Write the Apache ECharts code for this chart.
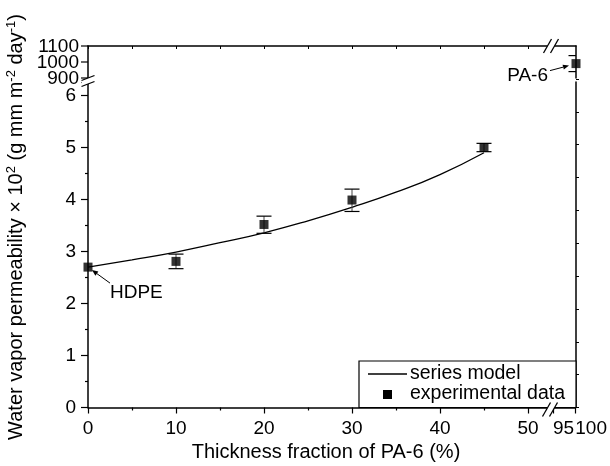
<!DOCTYPE html>
<html><head><meta charset="utf-8">
<script src="https://cdn.jsdelivr.net/npm/echarts@6/dist/echarts.min.js"></script>
<style>html,body{margin:0;padding:0;background:#fff}#c{width:610px;height:466px}</style>
</head><body><div id="c"></div>
<script>
// ---- data ----
const modelX = [0, 5, 10, 15, 20, 25, 30, 35, 40, 45];
const modelY = [2.70, 2.84, 2.99, 3.17, 3.36, 3.59, 3.85, 4.14, 4.48, 4.90];
const expX = [0, 10, 20, 30, 45];
const expY = [2.70, 2.81, 3.52, 3.99, 5.00];
const expLow = [null, 2.67, 3.35, 3.77, 4.92];
const expHigh = [null, 2.95, 3.68, 4.20, 5.08];
const pa6X = [100];
const pa6Y = [990];
const pa6Low = [940];
const pa6High = [1040];
const yTicksTop = [900, 1000, 1100];
const xTicksRight = [95, 100];
const seriesNames = ['series model', 'experimental data'];

// ---- chart ----
const FONT = '"Liberation Sans", Arial, Helvetica, sans-serif';
const K = '#000';
const chart = echarts.init(document.getElementById('c'));
const AL = {show: true, onZero: false, lineStyle: {color: K, width: 1.5}};
const plain = v => String(Math.round(v * 100) / 100);
const lbl = (show, extra) => Object.assign({show, color: K, fontSize: 19, fontFamily: FONT,
  hideOverlap: false, formatter: plain}, extra || {});

function errRender(params, api) {
  const x = api.value(0), lo = api.value(1), hi = api.value(2);
  const a = api.coord([x, lo]), b = api.coord([x, hi]);
  const cs = params.coordSys;
  const w = 7.5;
  const xl = Math.max(a[0] - w, cs.x), xr = Math.min(a[0] + w, cs.x + cs.width);
  return {type: 'group', children: [
    {type: 'line', shape: {x1: a[0], y1: a[1], x2: b[0], y2: b[1]}, style: {stroke: '#444', lineWidth: 1}},
    {type: 'line', shape: {x1: xl, y1: a[1], x2: xr, y2: a[1]}, style: {stroke: K, lineWidth: 1.2}},
    {type: 'line', shape: {x1: xl, y1: b[1], x2: xr, y2: b[1]}, style: {stroke: K, lineWidth: 1.2}}
  ]};
}

const errMain = [];
expX.forEach((x, i) => { if (expLow[i] != null) errMain.push([x, expLow[i], expHigh[i]]); });
const errPA = pa6X.map((x, i) => [x, pa6Low[i], pa6High[i]]);

chart.setOption({
  animation: false,
  backgroundColor: '#fff',
  grid: [
    {left: 88, top: 82, width: 462, height: 325.5},   // main
    {left: 88, top: 46, width: 462, height: 32},      // top-left
    {left: 550, top: 82, width: 26, height: 325.5},   // bottom-right
    {left: 550, top: 46, width: 26, height: 32},      // top-right
    {left: 550, top: 79, width: 26, height: 328.5}    // right-side ticks
  ],
  xAxis: [
    {gridIndex: 0, type: 'value', min: 0, max: 52.5, interval: 10, axisLine: AL,
     axisTick: {show: true, inside: false, length: 6, lineStyle: {color: K, width: 1.2}},
     minorTick: {show: true, splitNumber: 2, length: 3, lineStyle: {color: K, width: 1.2}},
     axisLabel: lbl(true, {margin: 12}), splitLine: {show: false}},
    {gridIndex: 1, type: 'value', position: 'top', min: 0, max: 52.5, interval: 5, axisLine: AL,
     axisTick: {show: true, inside: true, length: 3, lineStyle: {color: K, width: 1}},
     axisLabel: {show: false}, splitLine: {show: false}},
    {gridIndex: 2, type: 'value', min: 94.348, max: 100, axisLine: AL,
     axisTick: {show: true, length: 6, customValues: xTicksRight, lineStyle: {color: K, width: 1.2}},
     axisLabel: lbl(true, {margin: 12, customValues: xTicksRight, align: 'left'}), splitLine: {show: false}},
    {gridIndex: 3, type: 'value', position: 'top', min: 94.348, max: 100, axisLine: AL,
     axisTick: {show: false}, axisLabel: {show: false}, splitLine: {show: false}},
    {gridIndex: 4, type: 'value', min: 0, max: 1, show: false}
  ],
  yAxis: [
    {gridIndex: 0, type: 'value', min: 0, max: 6.26, interval: 1, axisLine: AL,
     axisTick: {show: true, length: 7, lineStyle: {color: K, width: 1.2}},
     minorTick: {show: true, splitNumber: 2, length: 3, lineStyle: {color: K, width: 1.2}},
     axisLabel: lbl(true, {margin: 12, showMaxLabel: false}), splitLine: {show: false}},
    {gridIndex: 1, type: 'value', min: yTicksTop[0], max: yTicksTop[2], interval: 100, axisLine: AL,
     axisTick: {show: false}, axisLabel: {show: false}, splitLine: {show: false}},
    {gridIndex: 2, type: 'value', position: 'right', min: 0, max: 6.26, axisLine: AL,
     axisTick: {show: false}, axisLabel: {show: false}, splitLine: {show: false}},
    {gridIndex: 3, type: 'value', position: 'right', min: yTicksTop[0], max: yTicksTop[2], axisLine: AL,
     axisTick: {show: false}, axisLabel: {show: false}, splitLine: {show: false}},
    {gridIndex: 4, type: 'value', position: 'right', min: 0, max: 10, interval: 1,
     axisLine: {show: false, onZero: false},
     axisTick: {show: true, length: 3, lineStyle: {color: K, width: 1}}, axisLabel: {show: false}, splitLine: {show: false}}
  ],
  series: [
    {name: seriesNames[0], type: 'line', xAxisIndex: 0, yAxisIndex: 0, smooth: true, showSymbol: false,
     data: modelX.map((x, i) => [x, modelY[i]]), lineStyle: {color: K, width: 1.3}, z: 3},
    {type: 'custom', xAxisIndex: 0, yAxisIndex: 0, renderItem: errRender, data: errMain, z: 4},
    {name: seriesNames[1], type: 'scatter', xAxisIndex: 0, yAxisIndex: 0, symbol: 'rect', symbolSize: 9,
     itemStyle: {color: K}, data: expX.map((x, i) => [x, expY[i]]), clip: false, z: 5},
    {type: 'custom', xAxisIndex: 3, yAxisIndex: 3, renderItem: errRender, data: errPA, z: 4},
    {name: 'PA-6', type: 'scatter', xAxisIndex: 3, yAxisIndex: 3, symbol: 'rect', symbolSize: 9,
     itemStyle: {color: K}, data: pa6X.map((x, i) => [x, pa6Y[i]]), clip: false, z: 5}
  ]
});

// ---- decorations (breaks, annotations, legend, titles, top-segment ticks) ----
function brkH(cx, cy) { // break on a horizontal axis: steep strokes
  const dx = 4, dy = 7, o = 3.5;
  const p = [[cx - o - dx, cy + dy], [cx - o + dx, cy - dy], [cx + o + dx, cy - dy], [cx + o - dx, cy + dy]];
  return [
    {type: 'polygon', shape: {points: p}, style: {fill: '#fff'}, z: 50},
    {type: 'line', shape: {x1: p[0][0], y1: p[0][1], x2: p[1][0], y2: p[1][1]}, style: {stroke: K, lineWidth: 1.3}, z: 51},
    {type: 'line', shape: {x1: p[3][0], y1: p[3][1], x2: p[2][0], y2: p[2][1]}, style: {stroke: K, lineWidth: 1.3}, z: 51}
  ];
}
function brkV(cx, cy) { // break on a vertical axis: shallow strokes
  const dx = 6.5, dy = 2.5, o = 3;
  const p = [[cx - dx, cy - o + dy], [cx + dx, cy - o - dy], [cx + dx, cy + o - dy], [cx - dx, cy + o + dy]];
  return [
    {type: 'polygon', shape: {points: p}, style: {fill: '#fff'}, z: 50},
    {type: 'line', shape: {x1: p[0][0], y1: p[0][1], x2: p[1][0], y2: p[1][1]}, style: {stroke: K, lineWidth: 1.3}, z: 51},
    {type: 'line', shape: {x1: p[3][0], y1: p[3][1], x2: p[2][0], y2: p[2][1]}, style: {stroke: K, lineWidth: 1.3}, z: 51}
  ];
}
function arrow(x1, y1, x2, y2) {
  const ang = Math.atan2(y2 - y1, x2 - x1), L = 6, W = 2.5;
  const bx = x2 - L * Math.cos(ang), by = y2 - L * Math.sin(ang);
  const nx = -Math.sin(ang) * W, ny = Math.cos(ang) * W;
  return [
    {type: 'line', shape: {x1, y1, x2: bx, y2: by}, style: {stroke: K, lineWidth: 1}, z: 20},
    {type: 'polygon', shape: {points: [[x2, y2], [bx + nx, by + ny], [bx - nx, by - ny]]}, style: {fill: K}, z: 20}
  ];
}
const hd = chart.convertToPixel({gridIndex: 0}, [expX[0], expY[0]]);
const pa = chart.convertToPixel({gridIndex: 3}, [pa6X[0], pa6Y[0]]);
const corner = chart.convertToPixel({gridIndex: 0}, [52.5, 0]);
const topLeft = chart.convertToPixel({gridIndex: 1}, [0, 1100]);
const txt = (text, x, y, size, align, vAlign) => ({type: 'text', x, y, z: 30,
  style: {text, fill: K, fontSize: size, fontFamily: FONT, align: align || 'left', verticalAlign: vAlign || 'middle'}});

const g = [];
// top segment ticks + labels of the left axis (placed through the axis scale)
yTicksTop.forEach(v => {
  const p = chart.convertToPixel({gridIndex: 1}, [0, v]);
  g.push({type: 'line', shape: {x1: p[0] - 7, y1: p[1], x2: p[0], y2: p[1]}, style: {stroke: K, lineWidth: 1.2}, z: 20});
  g.push(txt(String(v), p[0] - 9, p[1] + 1, 19, 'right'));
});
// breaks
g.push(...brkV(topLeft[0], 81));
g.push(...brkH(corner[0] + 1, topLeft[1]));
g.push(...brkH(corner[0], corner[1] + 2));
// annotations
g.push(txt('HDPE', hd[0] + 22, hd[1] + 26, 19));
g.push(...arrow(hd[0] + 22, hd[1] + 16, hd[0] + 4, hd[1] + 3));
g.push(txt('PA-6', pa[0] - 28, pa[1] + 12, 19, 'right'));
g.push(...arrow(pa[0] - 26, pa[1] + 7, pa[0] - 7, pa[1] + 2));
// legend
const lx = 359, ly = 361, lw = corner[0] + 26 - 359, lh = corner[1] - 361;
g.push({type: 'rect', shape: {x: lx, y: ly, width: lw, height: lh}, style: {fill: '#fff', stroke: K, lineWidth: 1.2}, z: 10});
g.push({type: 'line', shape: {x1: 368, y1: 374, x2: 407, y2: 374}, style: {stroke: K, lineWidth: 1.3}, z: 11});
g.push({type: 'rect', shape: {x: 383, y: 390, width: 9, height: 9}, style: {fill: K}, z: 11});
g.push(txt(seriesNames[0], 410, 374, 19.5));
g.push(txt(seriesNames[1], 410, 394, 19.5));
// axis titles
g.push(txt('Thickness fraction of PA-6 (%)', 326, 452, 20, 'center'));
g.push({type: 'text', x: 16, y: 227, rotation: Math.PI / 2, z: 30,
  style: {text: '{n|Water vapor permeability × 10}{s|2}{n| (g mm m}{s|-2}{n| day}{s|-1}{n|)}',
    align: 'center', verticalAlign: 'middle',
    rich: {n: {fontSize: 20, fontFamily: FONT, fill: K, lineHeight: 22},
           s: {fontSize: 13, fontFamily: FONT, fill: K, lineHeight: 13, verticalAlign: 'top'}}}});
chart.setOption({graphic: g});
</script>
</body></html>
